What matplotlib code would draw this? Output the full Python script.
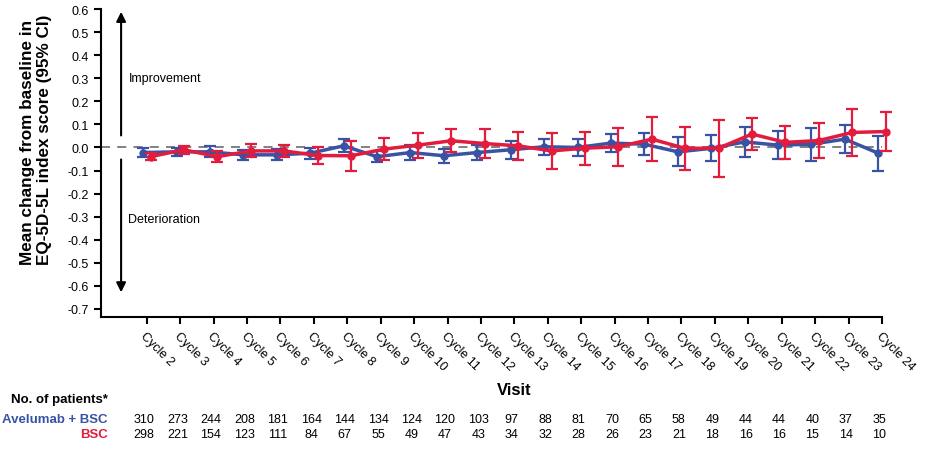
import numpy as np
import matplotlib
matplotlib.use("Agg")
import matplotlib.pyplot as plt
import matplotlib.transforms as mtransforms

plt.rcParams['font.family'] = ['Liberation Sans', 'DejaVu Sans']

# data
cycles = [f'Cycle {i}' for i in range(2, 25)]
ave_mean = [-0.022, -0.019, -0.019, -0.032, -0.032, -0.025, 0.007, -0.040, -0.022, -0.036,
            -0.022, -0.010, 0.003, 0.000, 0.019, 0.014, -0.019, -0.004, 0.024, 0.010,
            0.014, 0.036, -0.025]
ave_err = [0.018, 0.018, 0.024, 0.022, 0.024, 0.023, 0.028, 0.025, 0.033, 0.031,
           0.032, 0.038, 0.034, 0.038, 0.040, 0.047, 0.063, 0.056, 0.065, 0.061,
           0.071, 0.061, 0.076]
bsc_mean = [-0.040, -0.010, -0.040, -0.015, -0.015, -0.035, -0.036, -0.007, 0.010, 0.029,
            0.017, 0.007, -0.015, -0.003, 0.003, 0.036, -0.004, -0.003, 0.058, 0.022,
            0.030, 0.065, 0.069]
bsc_err = [0.014, 0.018, 0.024, 0.028, 0.027, 0.038, 0.064, 0.049, 0.054, 0.050,
           0.061, 0.060, 0.079, 0.071, 0.083, 0.096, 0.093, 0.124, 0.071, 0.071,
           0.074, 0.100, 0.085]
n_ave = [310, 273, 244, 208, 181, 164, 144, 134, 124, 120, 103, 97, 88, 81, 70, 65, 58,
         49, 44, 44, 40, 37, 35]
n_bsc = [298, 221, 154, 123, 111, 84, 67, 55, 49, 47, 43, 34, 32, 28, 26, 23, 21, 18,
         16, 16, 15, 14, 10]

blue = '#3953A4'
red = '#E31B3D'

fig = plt.figure(figsize=(9.36, 4.56), dpi=100)
ax = fig.add_axes([0.1076, 0.3026, 0.8347, 0.6754])

x = np.arange(len(cycles))
dodge = 0.11

ax.axhline(0, color='#777777', lw=1.3, ls=(0, (5, 4)), zorder=1)

for xs, m, e, c, z in [(x - dodge, ave_mean, ave_err, blue, 3),
                       (x + dodge, bsc_mean, bsc_err, red, 4)]:
    cont = ax.errorbar(xs, m, yerr=e, color=c, lw=2.5, marker='o', ms=5,
                       capsize=4, capthick=1.6, elinewidth=1.6, zorder=z)
    for art in cont.get_children():
        art.set_clip_on(False)

yt = [round(v, 1) + 0.0 for v in np.arange(-0.7, 0.61, 0.1)]
ax.set_xlim(-1.38, 22)
ax.set_ylim(-0.735, 0.6)
ax.set_yticks(yt)
ax.set_yticklabels([f'{v:.1f}' for v in yt])
ax.set_xticks(x)
ax.set_xticklabels(cycles, rotation=-45, ha='left', va='top', rotation_mode='anchor')
ax.tick_params(axis='both', direction='out', length=5, width=1.5, labelsize=9)
ax.tick_params(axis='x', pad=4)

for s in ['top', 'right']:
    ax.spines[s].set_visible(False)
for s in ['left', 'bottom']:
    ax.spines[s].set_linewidth(1.5)

# direction arrows
ax.annotate('', xy=(-0.77, 0.6), xytext=(-0.77, 0.04),
            arrowprops=dict(arrowstyle='-|>', color='black', lw=1.5, mutation_scale=14))
ax.annotate('', xy=(-0.77, -0.64), xytext=(-0.77, -0.04),
            arrowprops=dict(arrowstyle='-|>', color='black', lw=1.5, mutation_scale=14))
ax.text(-0.55, 0.3, 'Improvement', fontsize=9, va='center', ha='left')
ax.text(-0.55, -0.31, 'Deterioration', fontsize=9, va='center', ha='left')

ax.set_ylabel('Mean change from baseline in\nEQ-5D-5L index score (95% CI)',
              fontsize=12.3, fontweight='bold', multialignment='left')
ax.yaxis.set_label_coords(-0.062, 0.58)

trans = mtransforms.blended_transform_factory(ax.transData, fig.transFigure)
ax.text(11.0, 1 - 391 / 456, 'Visit', transform=trans, fontsize=12, fontweight='bold',
        ha='center', va='center')

fig.text(108 / 936, 1 - 400 / 456, 'No. of patients*', fontsize=9.5, fontweight='bold',
         ha='right', va='center')
fig.text(108 / 936, 1 - 420 / 456, 'Avelumab + BSC', fontsize=9.5, fontweight='bold',
         color=blue, ha='right', va='center')
fig.text(108 / 936, 1 - 435 / 456, 'BSC', fontsize=9.5, fontweight='bold',
         color=red, ha='right', va='center')
for i in range(len(cycles)):
    ax.text(x[i] - 0.08, 1 - 420 / 456, str(n_ave[i]), transform=trans, fontsize=9,
            ha='center', va='center', clip_on=False)
    ax.text(x[i] - 0.08, 1 - 435 / 456, str(n_bsc[i]), transform=trans, fontsize=9,
            ha='center', va='center', clip_on=False)

fig.savefig('out.png', dpi=100)
